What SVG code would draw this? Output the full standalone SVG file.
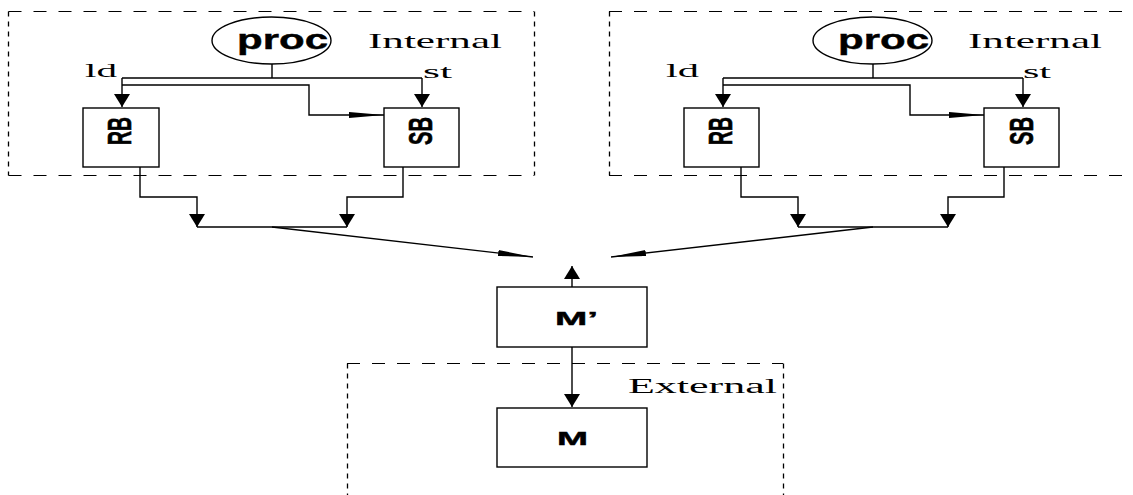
<svg xmlns="http://www.w3.org/2000/svg" width="1133" height="495" viewBox="0 0 1133 495">
<style>
.bg{fill:#fff}
.box{fill:#fff;stroke:#000;stroke-width:1.4}
.ln{fill:none;stroke:#000;stroke-width:1.4}
.dh{fill:none;stroke:#000;stroke-width:1.2;stroke-dasharray:13 12}
.dv{fill:none;stroke:#000;stroke-width:1.3;stroke-dasharray:5 5}
.bs{font-family:"Liberation Sans",Arial,sans-serif;font-weight:bold;fill:#000;stroke:#000;stroke-width:0.4}
.sr{font-family:"Liberation Serif","Times New Roman",serif;fill:#000}
</style>
<defs>
<marker id="blk" viewBox="0 0 13 16" refX="13" refY="8" markerWidth="13" markerHeight="16" markerUnits="userSpaceOnUse" orient="auto"><path d="M0,0 L13,8 L0,16 z" fill="#000"/></marker>
<marker id="thin" viewBox="0 0 35 6" refX="35" refY="3" markerWidth="35" markerHeight="6" markerUnits="userSpaceOnUse" orient="auto"><path d="M0,0 L35,3 L0,6 z" fill="#000"/></marker>
</defs>
<rect class="bg" x="0" y="0" width="1133" height="495"/>

<g id="regions">
<path class="dh" d="M8.5,11.5 H534 M8.5,175.5 H534"/>
<path class="dv" d="M8.5,11.5 V175.5 M534.5,11.5 V175.5"/>
<path class="dh" d="M609,11.5 H1140 M609,175.5 H1140"/>
<path class="dv" d="M609.5,11.5 V175.5"/>
<path class="dh" d="M347,363.5 H783"/>
<path class="dv" d="M347.5,363.5 V495 M783.5,363.5 V495"/>
<text class="sr" x="368" y="48" font-size="22" textLength="134" lengthAdjust="spacingAndGlyphs">Internal</text>
<text class="sr" x="968" y="48" font-size="22" textLength="134" lengthAdjust="spacingAndGlyphs">Internal</text>
<text class="sr" x="628" y="393" font-size="20" textLength="149" lengthAdjust="spacingAndGlyphs">External</text>
</g>

<g id="connectors">
<path class="ln" d="M272,63 V78 M122,78 H422"/>
<path class="ln" d="M122,78 V107" marker-end="url(#blk)"/>
<path class="ln" d="M422,78 V107" marker-end="url(#blk)"/>
<path class="ln" d="M122,85 H309 V115 H384" marker-end="url(#thin)"/>
<path class="ln" d="M140,167 V197 H197 V227" marker-end="url(#blk)"/>
<path class="ln" d="M403,167 V197 H347 V227" marker-end="url(#blk)"/>
<path class="ln" d="M197,227 H347"/>
<path class="ln" d="M272,227 L533,257" marker-end="url(#thin)"/>
<path class="ln" d="M873,63 V78 M723,78 H1023"/>
<path class="ln" d="M723,78 V107" marker-end="url(#blk)"/>
<path class="ln" d="M1023,78 V107" marker-end="url(#blk)"/>
<path class="ln" d="M723,85 H910 V115 H984" marker-end="url(#thin)"/>
<path class="ln" d="M741,167 V197 H798 V227" marker-end="url(#blk)"/>
<path class="ln" d="M1004,167 V197 H948 V227" marker-end="url(#blk)"/>
<path class="ln" d="M798,227 H948"/>
<path class="ln" d="M873,227 L611,257" marker-end="url(#thin)"/>
<path class="ln" d="M572,287 V266" marker-end="url(#blk)"/>
<path class="ln" d="M572,347 V407" marker-end="url(#blk)"/>
<text class="sr" x="85" y="77" font-size="18" textLength="32" lengthAdjust="spacingAndGlyphs">ld</text>
<text class="sr" x="423" y="78" font-size="18" textLength="29" lengthAdjust="spacingAndGlyphs">st</text>
<text class="sr" x="666" y="77" font-size="18" textLength="33" lengthAdjust="spacingAndGlyphs">ld</text>
<text class="sr" x="1023" y="78" font-size="18" textLength="28" lengthAdjust="spacingAndGlyphs">st</text>
</g>

<g id="proc1">
<ellipse cx="271.5" cy="40.5" rx="59.5" ry="23.5" class="box"/>
<text class="bs" x="237" y="49" font-size="27" textLength="91" lengthAdjust="spacingAndGlyphs">proc</text>
</g>
<g id="rb1">
<rect class="box" x="83" y="108" width="76" height="59"/>
<text class="bs" transform="translate(131,131) scale(1.5,1) rotate(-90)" text-anchor="middle" font-size="22" textLength="28" lengthAdjust="spacingAndGlyphs">RB</text>
</g>
<g id="sb1">
<rect class="box" x="384" y="108" width="75" height="59"/>
<text class="bs" transform="translate(432,131) scale(1.5,1) rotate(-90)" text-anchor="middle" font-size="22" textLength="28" lengthAdjust="spacingAndGlyphs">SB</text>
</g>

<g id="proc2">
<ellipse cx="872.5" cy="40.5" rx="59.5" ry="23.5" class="box"/>
<text class="bs" x="838" y="49" font-size="27" textLength="91" lengthAdjust="spacingAndGlyphs">proc</text>
</g>
<g id="rb2">
<rect class="box" x="684" y="108" width="75" height="59"/>
<text class="bs" transform="translate(732,131) scale(1.5,1) rotate(-90)" text-anchor="middle" font-size="22" textLength="28" lengthAdjust="spacingAndGlyphs">RB</text>
</g>
<g id="sb2">
<rect class="box" x="984" y="108" width="75" height="59"/>
<text class="bs" transform="translate(1033,131) scale(1.5,1) rotate(-90)" text-anchor="middle" font-size="22" textLength="28" lengthAdjust="spacingAndGlyphs">SB</text>
</g>

<g id="mprime">
<rect class="box" x="497" y="287" width="150" height="60"/>
<text class="bs" x="555" y="325" font-size="18" textLength="43" lengthAdjust="spacingAndGlyphs">M’</text>
</g>
<g id="m">
<rect class="box" x="497" y="408" width="150" height="59"/>
<text class="bs" x="557" y="445" font-size="18" textLength="31" lengthAdjust="spacingAndGlyphs">M</text>
</g>
</svg>
